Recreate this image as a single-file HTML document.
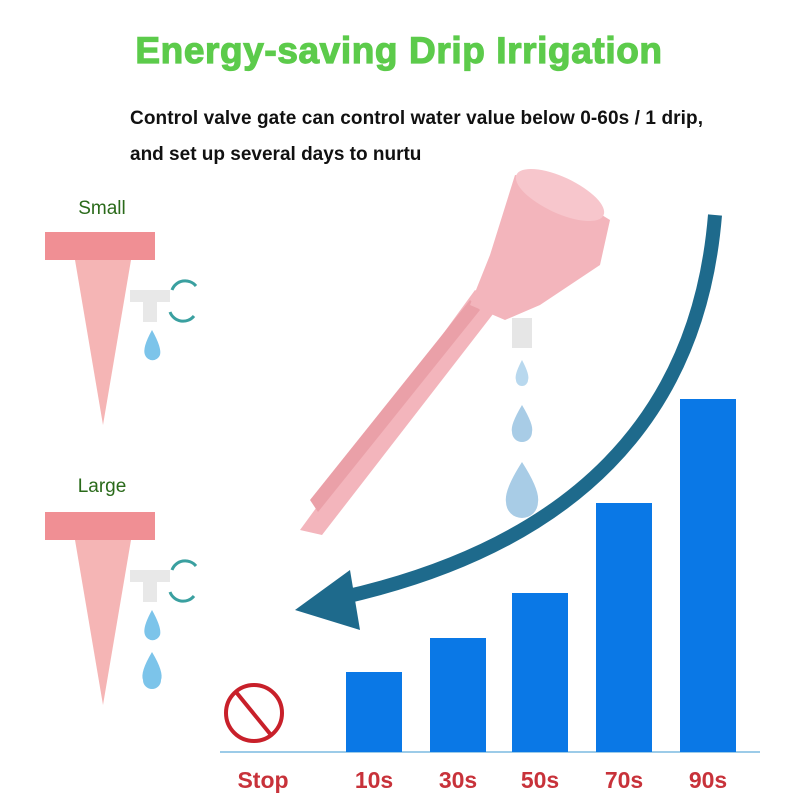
<!DOCTYPE html>
<html><head><meta charset="utf-8"><style>
html,body{margin:0;padding:0;background:#fff;}
svg{display:block;}
</style></head><body>
<svg width="800" height="800" viewBox="0 0 800 800" xmlns="http://www.w3.org/2000/svg">
<rect width="800" height="800" fill="#fff"/>
<text x="399" y="63" text-anchor="middle" font-family="Liberation Sans, sans-serif" font-weight="bold" font-size="37" letter-spacing="0.6" fill="#5ccb4b" stroke="#5ccb4b" stroke-width="1.2">Energy-saving Drip Irrigation</text>
<text x="130" y="124" font-family="Liberation Sans, sans-serif" font-weight="bold" font-size="19" fill="#111" textLength="573">Control valve gate can control water value below 0-60s / 1 drip,</text>
<text x="130" y="160" font-family="Liberation Sans, sans-serif" font-weight="bold" font-size="19" fill="#111">and set up several days to nurtu</text>
<text x="102" y="214" text-anchor="middle" font-family="Liberation Sans, sans-serif" font-size="19" fill="#2a6a1a">Small</text>
<text x="102" y="492" text-anchor="middle" font-family="Liberation Sans, sans-serif" font-size="19" fill="#2a6a1a">Large</text>
<g>
<polygon points="75,260 131,260 103,425" fill="#f5b5b5"/>
<rect x="45" y="232" width="110" height="28" fill="#f08f94"/>
<rect x="130" y="290" width="40" height="12" fill="#e8e8e8"/>
<rect x="143" y="298" width="14" height="24" fill="#e8e8e8"/>
<path d="M152 330 Q142 348 145 355 A8 8 0 0 0 160 355 Q162 348 152 330Z" fill="#7cc4ea"/>
<path d="M172 290 A14 14 0 0 1 196 286" stroke="#3aa0a0" stroke-width="3" fill="none"/>
<path d="M170 312 A14 14 0 0 0 194 316" stroke="#3aa0a0" stroke-width="3" fill="none"/>
</g>
<g>
<polygon points="75,540 131,540 103,705" fill="#f5b5b5"/>
<rect x="45" y="512" width="110" height="28" fill="#f08f94"/>
<rect x="130" y="570" width="40" height="12" fill="#e8e8e8"/>
<rect x="143" y="578" width="14" height="24" fill="#e8e8e8"/>
<path d="M152 610 Q142 628 145 635 A8 8 0 0 0 160 635 Q162 628 152 610Z" fill="#7cc4ea"/>
<path d="M152 652 Q140 672 143 680 A9 9 0 0 0 161 680 Q164 672 152 652Z" fill="#7cc4ea"/>
<path d="M172 570 A14 14 0 0 1 196 566" stroke="#3aa0a0" stroke-width="3" fill="none"/>
<path d="M170 592 A14 14 0 0 0 194 596" stroke="#3aa0a0" stroke-width="3" fill="none"/>
</g>
<path d="M715 215 Q690 520 340 598" stroke="#1e6a8c" stroke-width="14" fill="none"/>
<polygon points="295,610 350,570 360,630" fill="#1e6a8c"/>
<polygon points="300,530 475,290 500,305 322,535" fill="#f3b5bc"/>
<polygon points="310,500 470,300 480,310 318,512" fill="#eaa0a8"/>
<polygon points="470,305 490,255 515,175 545,180 610,220 600,265 540,305 505,320" fill="#f3b5bc"/>
<ellipse cx="560" cy="195" rx="48" ry="18" transform="rotate(25 560 195)" fill="#f7c6cc"/>
<rect x="512" y="318" width="20" height="30" fill="#e6e6e6"/>
<path d="M522 360 Q514 375 516 380 A6 6 0 0 0 528 380 Q530 375 522 360Z" fill="#b8d8ee"/>
<path d="M522 405 Q510 425 512 432 A10 10 0 0 0 532 432 Q534 425 522 405Z" fill="#a8cce6"/>
<path d="M522 462 Q504 490 506 502 A16 16 0 0 0 538 502 Q540 490 522 462Z" fill="#a8cce6"/>
<line x1="220" y1="752" x2="760" y2="752" stroke="#9ccbe8" stroke-width="2"/>
<rect x="346" y="672" width="56" height="80" fill="#0a78e6"/>
<rect x="430" y="638" width="56" height="114" fill="#0a78e6"/>
<rect x="512" y="593" width="56" height="159" fill="#0a78e6"/>
<rect x="596" y="503" width="56" height="249" fill="#0a78e6"/>
<rect x="680" y="399" width="56" height="353" fill="#0a78e6"/>
<circle cx="254" cy="713" r="28" fill="none" stroke="#c8202a" stroke-width="4"/>
<line x1="236" y1="692" x2="271" y2="735" stroke="#c8202a" stroke-width="4"/>
<g font-family="Liberation Sans, sans-serif" font-weight="bold" font-size="23" fill="#c8323a" text-anchor="middle">
<text x="263" y="788">Stop</text>
<text x="374" y="788">10s</text>
<text x="458" y="788">30s</text>
<text x="540" y="788">50s</text>
<text x="624" y="788">70s</text>
<text x="708" y="788">90s</text>
</g>
</svg>
</body></html>
